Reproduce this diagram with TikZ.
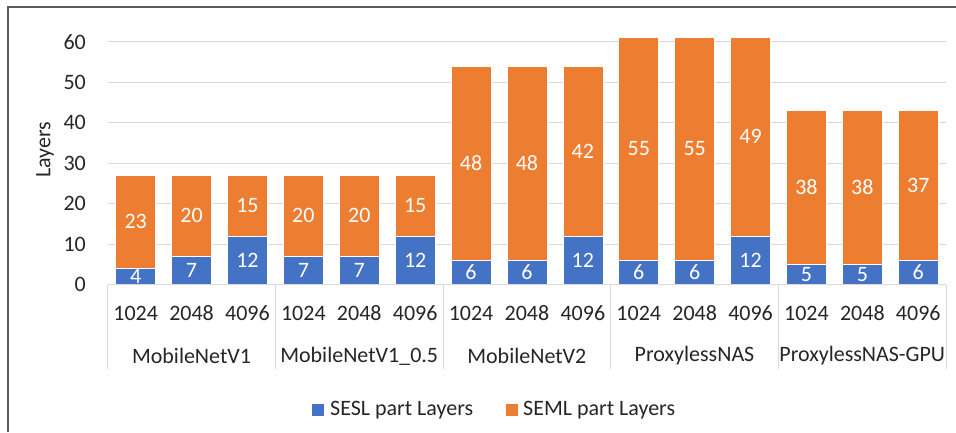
\documentclass[tikz,border=0pt]{standalone}
\usepackage{fontspec}
\setmainfont{Carlito}
\definecolor{sesl}{HTML}{4472C4}
\definecolor{seml}{HTML}{ED7D31}
\definecolor{gridc}{HTML}{D9D9D9}
\definecolor{framec}{HTML}{595959}
\begin{document}
\begin{tikzpicture}[x=1pt,y=1pt,
  font=\fontsize{22}{26}\selectfont,
  gridline/.style={gridc,line width=1pt},
  barbox/.style={draw=white,line width=0.6pt},
  vallabel/.style={text=white,inner sep=0pt},
  ticklabel/.style={anchor=east,inner sep=0pt,text=black!85},
  axlabel/.style={inner sep=0pt,text=black!85},
  legkey/.style={minimum width=12pt,minimum height=12pt,inner sep=0pt}]
\useasboundingbox (0,0) rectangle (956,432);
\fill[white] (0,0) rectangle (956,432);
% frame
\draw[framec,line width=1.5pt] (8,0) -- (8,425) -- (956,425);
% gridlines and tick labels
\foreach \v in {1,...,6}{
  \draw[gridline] (107.7,{147.5+40.47*\v}) -- (946,{147.5+40.47*\v});
}
\foreach \v in {0,...,6}{
  \node[ticklabel] (tick\v) at (86,{147.5+40.47*\v}) {\number\numexpr\v*10\relax};
}
% bars
\foreach \i/\a/\b/\n in {0/4/23/1024,1/7/20/2048,2/12/15/4096,
                       3/7/20/1024,4/7/20/2048,5/12/15/4096,
                       6/6/48/1024,7/6/48/2048,8/12/42/4096,
                       9/6/55/1024,10/6/55/2048,11/12/49/4096,
                       12/5/38/1024,13/5/38/2048,14/6/37/4096}{
  \pgfmathsetmacro\cx{107.7+55.9*(\i+0.5)}
  \fill[seml,barbox] ({\cx-20},{147.5+4.047*\a}) rectangle ({\cx+20},{147.5+4.047*(\a+\b)});
  \fill[sesl,barbox] ({\cx-20},147.5) rectangle ({\cx+20},{147.5+4.047*\a});
  \node[vallabel] (sesl\i) at (\cx,{147.5+4.047*\a/2}) {\a};
  \node[vallabel] (seml\i) at (\cx,{147.5+4.047*(\a+\b/2)}) {\b};
  \node[axlabel] (size\i) at (\cx,119) {\n};
}
% category axis
\draw[gridline] (107.7,147.5) -- (946,147.5);
\foreach \k in {0,...,5}{
  \draw[gridline] ({107.7+167.66*\k},147.5) -- ({107.7+167.66*\k},63);
}
\foreach \k/\g in {0/MobileNetV1,1/MobileNetV1\_0.5,2/MobileNetV2,3/ProxylessNAS,4/ProxylessNAS-GPU}{
  \node[axlabel] (grp\k) at ({107.7+167.66*(\k+0.5)},76) {\g};
}
% y axis title
\node[axlabel,rotate=90] (ytitle) at (45,282) {Layers};
% legend
\node[legkey,fill=sesl] (keysesl) at (318,22) {};
\node[axlabel,anchor=west] (legsesl) at (330,22) {SESL part Layers};
\node[legkey,fill=seml] (keyseml) at (511.5,22) {};
\node[axlabel,anchor=west] (legseml) at (523,22) {SEML part Layers};
\end{tikzpicture}
\end{document}
